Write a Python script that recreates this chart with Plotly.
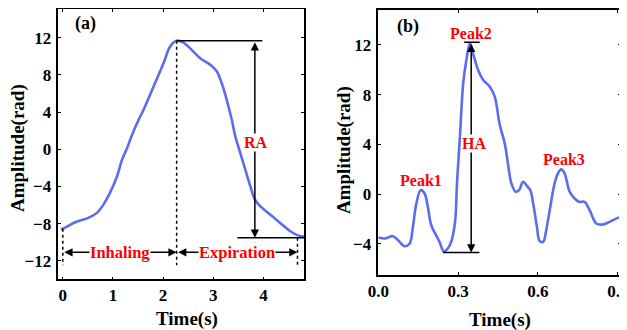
import plotly.graph_objects as go

# ---- Panel (a): respiration ----
time_a = [-0.04, 0.0, 0.245, 0.51, 0.68, 0.81, 0.94, 1.08, 1.18, 1.28, 1.38, 1.51, 1.61, 1.81, 2.01,
          2.14, 2.27, 2.40, 2.57, 2.74, 2.94, 3.07, 3.17, 3.27, 3.37, 3.44, 3.54, 3.64, 3.74, 3.83,
          3.93, 4.13, 4.33, 4.53, 4.70, 4.83]
amp_a = [-8.6, -8.55, -7.86, -7.39, -6.85, -5.96, -4.7, -2.93, -1.14, 0.11, 1.54, 3.15, 4.25, 6.76, 9.28,
         11.06, 11.68, 11.5, 10.7, 9.8, 9.1, 8.4, 7.1, 5.3, 3.17, 1.38, -0.41, -2.2, -4.0, -5.4,
         -6.1, -7.0, -7.9, -8.8, -9.3, -9.4]

# ---- Panel (b): heartbeat ----
time_b = [0.0, 0.024, 0.055, 0.074, 0.099, 0.118, 0.13, 0.143, 0.159, 0.174, 0.186, 0.199, 0.217,
          0.23, 0.246, 0.261, 0.276, 0.289, 0.296, 0.306, 0.319, 0.331, 0.344, 0.356, 0.375, 0.394,
          0.419, 0.4375, 0.456, 0.475, 0.4875, 0.5, 0.516, 0.529, 0.544, 0.559, 0.571, 0.584, 0.596,
          0.606, 0.619, 0.631, 0.644, 0.6625, 0.675, 0.6875, 0.7, 0.719, 0.7375, 0.754, 0.775,
          0.794, 0.819, 0.844, 0.869, 0.9, 0.925]
amp_b = [-3.49, -3.57, -3.38, -3.7, -4.19, -3.97, -2.63, -0.75, 0.32, 0.05, -1.02, -2.5, -3.3,
         -3.84, -4.6, -4.37, -3.7, -2.09, 1.0, 4.35, 8.9, 10.8, 12.13, 11.3, 9.98, 9.18,
         8.64, 7.83, 5.6, 4.08, 2.4, 0.86, 0.19, 0.32, 0.99, 0.64, 0.32, -1.02, -2.63,
         -3.76, -3.84, -2.9, -1.29, 0.86, 1.67, 1.99, 1.67, 0.19, -0.35, -0.62, -0.62,
         -1.29, -2.36, -2.44, -2.23, -1.91, -1.77]

ticks_a_x = [0, 1, 2, 3, 4]
ticks_a_y = [-12, -8, -4, 0, 4, 8, 12]
ticks_b_x = [0.0, 0.3, 0.6, 0.9]
ticks_b_y = [-4, 0, 4, 8, 12]

FONT = "Liberation Serif"
LINE = "#5b6cf0"
RED = "#ff0000"

# The page body has an 8px margin; the figure is sized to fit the window with it.
OFF = 8
W, H = 627 - OFF, 330 - OFF

def px(xp):
    return (xp - OFF) / W

def py(yp):
    return 1 - (yp - OFF) / H

fig = go.Figure()
fig.add_trace(go.Scatter(x=time_a, y=amp_a, mode="lines", line=dict(color=LINE, width=2.6, shape="spline"),
                         xaxis="x", yaxis="y", showlegend=False))
fig.add_trace(go.Scatter(x=time_b, y=amp_b, mode="lines", line=dict(color=LINE, width=2.6, shape="spline"),
                         xaxis="x2", yaxis="y2", showlegend=False))

axis_common = dict(showline=True, linecolor="black", linewidth=1.5, mirror="ticks", ticks="inside",
                   ticklen=3, tickwidth=1.2, tickcolor="black", showgrid=False, zeroline=False,
                   automargin=False, ticklabeloverflow="allow",
                   tickfont=dict(family=FONT, size=17, color="black", weight="bold"))

fig.update_layout(
    template="none",
    width=W, height=H, margin=dict(l=0, r=0, t=0, b=0, autoexpand=False),
    plot_bgcolor="white", paper_bgcolor="white",
    xaxis=dict(domain=[px(58.3), px(304)], range=[-0.09, 4.81], tickvals=ticks_a_x, anchor="y",
               ticklabelstandoff=0, **axis_common),
    yaxis=dict(domain=[py(279.3), py(9)], range=[-14, 15.1], tickvals=ticks_a_y, anchor="x",
               ticklabelstandoff=2, **axis_common),
    xaxis2=dict(domain=[px(378.3), px(620.5)], range=[0, 0.91], tickvals=ticks_b_x, tickformat=".1f",
                anchor="y2", ticklabelstandoff=0, **axis_common),
    yaxis2=dict(domain=[py(275), py(10)], range=[-6.5, 14.8], tickvals=ticks_b_y, anchor="x2",
                ticklabelstandoff=2, **axis_common),
)

def bold(size, color="black"):
    return dict(family=FONT, size=size, color=color, weight="bold")

def ptext(xp, yp, text, size, angle=0):
    fig.add_annotation(x=px(xp), y=py(yp), xref="paper", yref="paper", text=text, showarrow=False,
                       textangle=angle, font=bold(size), xanchor="center", yanchor="middle")

# Axis titles
ptext(18, 148, "Amplitude(rad)", 19, -90)
ptext(187, 319, "Time(s)", 19)
ptext(344, 150, "Amplitude(rad)", 19, -90)
ptext(500, 320, "Time(s)", 19)

def dtext(x, y, text, size, color, xr, yr, bg=None):
    fig.add_annotation(x=x, y=y, xref=xr, yref=yr, text=text, showarrow=False, font=bold(size, color),
                       xanchor="center", yanchor="middle", bgcolor=bg, borderpad=0)

shapes = []
def dline(x0, y0, x1, y1, xr, yr, dash="solid", w=1.5):
    shapes.append(dict(type="line", x0=x0, y0=y0, x1=x1, y1=y1, xref=xr, yref=yr,
                       line=dict(color="black", width=w, dash=dash)))

def arrow(x0, y0, x1, y1, xr, yr):
    fig.add_annotation(x=x1, y=y1, ax=x0, ay=y0, xref=xr, yref=yr, axref=xr, ayref=yr, text="",
                       showarrow=True, arrowhead=2, arrowsize=1.1, arrowwidth=1.5, arrowcolor="black",
                       arrowside="end+start", standoff=0, startstandoff=0)

# ---- Panel (a) annotations ----
i_pk = amp_a.index(max(amp_a))
t_pk, y_pk = time_a[i_pk], amp_a[i_pk]
y_end = -9.53
t_end = 4.68
y_arrow = -11.1

dline(0, amp_a[1], 0, -12.5, "x", "y", "dot")
dline(t_pk, y_pk, t_pk, -12.5, "x", "y", "dot")
dline(t_end, y_end, t_end, -12.5, "x", "y", "dot")
dline(t_pk, y_pk, 3.98, y_pk, "x", "y")
dline(3.48, y_end, 4.81, y_end, "x", "y")

arrow(3.83, y_pk, 3.83, y_end, "x", "y")
arrow(0, y_arrow, t_pk, y_arrow, "x", "y")
arrow(t_pk, y_arrow, t_end, y_arrow, "x", "y")

dtext(1.14, y_arrow, "Inhaling", 16.5, RED, "x", "y", "white")
dtext(3.48, y_arrow, "Expiration", 16.5, RED, "x", "y", "white")
dtext(3.86, 0.7, "RA", 16, RED, "x", "y", "white")
dtext(0.46, 13.5, "(a)", 18, "black", "x", "y")

# ---- Panel (b) annotations ----
ha_top = 12.2
ha_bot = -4.7
t_ha = 0.349
dline(0.3225, ha_top, 0.381, ha_top, "x2", "y2")
dline(0.2425, ha_bot, 0.38, ha_bot, "x2", "y2")
arrow(t_ha, ha_top, t_ha, ha_bot, "x2", "y2")
dtext(0.359, 4.03, "HA", 16, RED, "x2", "y2", "white")
dtext(0.35, 12.95, "Peak2", 16, RED, "x2", "y2")
dtext(0.161, 1.13, "Peak1", 16, RED, "x2", "y2")
dtext(0.696, 2.79, "Peak3", 16, RED, "x2", "y2")
dtext(0.1125, 13.47, "(b)", 18, "black", "x2", "y2")

fig.update_layout(shapes=shapes)
fig.write_html("out.html")
